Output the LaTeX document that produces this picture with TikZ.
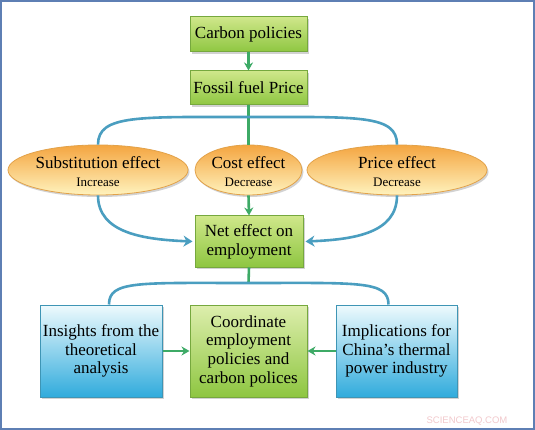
\documentclass[tikz,border=0pt]{standalone}
\usepackage{fontspec}
\setmainfont{Liberation Serif}
\newfontfamily\wmfont{Liberation Sans}
\usetikzlibrary{shapes.geometric,shadows,arrows.meta,calc}
\definecolor{gbord}{HTML}{76A83E}
\definecolor{gtop}{HTML}{CFE78A}
\definecolor{gbot}{HTML}{8EC641}
\definecolor{otop}{HTML}{F4A540}
\definecolor{omid}{HTML}{FCE3A0}
\definecolor{obot}{HTML}{FFF3BE}
\definecolor{obord}{HTML}{E2A24A}
\definecolor{btop}{HTML}{EEFAFD}
\definecolor{bbot}{HTML}{30ABDC}
\definecolor{bbord}{HTML}{3E95B5}
\definecolor{garrow}{HTML}{3DAA66}
\definecolor{barc}{HTML}{4A9EC0}
\definecolor{frame}{HTML}{5E7FB4}
\definecolor{wm}{HTML}{F2C9CC}
\tikzset{
  base/.style={inner sep=0pt, align=center, font=\fontsize{17}{19}\selectfont,
    drop shadow={shadow xshift=1.5pt, shadow yshift=-2pt, opacity=0.35, fill=gray}},
  greenbox/.style={base, rectangle, draw=gbord, line width=1pt, shading=axis,
    top color=gtop, bottom color=gbot},
  orangeell/.style={base, ellipse, draw=obord, line width=0.8pt, shading=axis,
    top color=otop, middle color=omid, bottom color=obot},
  bluebox/.style={base, rectangle, draw=bbord, line width=1pt, shading=axis,
    top color=btop, bottom color=bbot},
  garr/.style={draw=garrow, line width=2.6pt, -{Stealth[length=8pt,width=9pt]}},
  gline/.style={draw=garrow, line width=2.6pt},
  barcline/.style={draw=barc, line width=2.6pt},
  barr/.style={draw=barc, line width=2.6pt, -{Stealth[length=9pt,width=11pt]}},
  small/.style={font=\fontsize{13}{14}\selectfont}
}
\begin{document}
\begin{tikzpicture}[x=1pt,y=-1pt]
\useasboundingbox (0,0) rectangle (535,430);
\fill[white] (0,0) rectangle (535,430);
\draw[frame, line width=2pt] (1,1) rectangle (534,429);

\node[greenbox, minimum width=117pt, minimum height=35pt] (cp) at (248.5,34.5) {Carbon policies};
\node[greenbox, minimum width=117pt, minimum height=34pt] (ffp) at (248.5,88) {Fossil fuel Price};

\coordinate (arctop) at (248.5,117);
\coordinate (arcbot) at (248.5,283);

\node[orangeell, minimum width=180pt, minimum height=50pt] (sub) at (98,170) {};
\node[orangeell, minimum width=107pt, minimum height=50pt] (cost) at (248.5,170) {};
\node[orangeell, minimum width=180pt, minimum height=50pt] (price) at (397,170) {};

\node[greenbox, minimum width=108pt, minimum height=51pt] (net) at (249,241.5) {};

\node[bluebox, minimum width=122pt, minimum height=92pt] (ins) at (101,351) {};
\node[greenbox, minimum width=117pt, minimum height=92pt, top color=gtop!70!white] (coord) at (248.5,351) {};
\node[bluebox, minimum width=121pt, minimum height=92pt] (impl) at (396.5,351) {};

% connectors behind texts
\draw[garr] (cp.south) -- (ffp.north);
\draw[gline] (ffp.south) -- (cost.north);
\draw[barcline] (sub.north) .. controls ($(sub.north)+(0,-30)$) and ($(arctop)+(-110,0)$) .. (arctop)
   .. controls ($(arctop)+(110,0)$) and ($(price.north)+(0,-30)$) .. (price.north);
\draw[barr] (sub.south) .. controls ($(sub.south)+(0,38)$) and ($(net.west)+(-50,-2)$) .. ($(net.west)+(-2,0)$);
\draw[barr] (price.south) .. controls ($(price.south)+(0,38)$) and ($(net.east)+(50,-2)$) .. ($(net.east)+(2,0)$);
\draw[garr] (cost.south) -- (net.north);
\draw[gline] (net.south) -- (arcbot);
\draw[barcline] ($(ins.north)+(8,0)$) .. controls ($(ins.north)+(8,-24)$) and ($(arcbot)+(-110,0)$) .. (arcbot)
   .. controls ($(arcbot)+(110,0)$) and ($(impl.north)+(-8,-24)$) .. ($(impl.north)+(-8,0)$);
\draw[garr] (ins.east) -- (coord.west);
\draw[garr] (impl.west) -- (coord.east);

% texts
\node[font=\fontsize{17}{19}\selectfont] (subt) at (98,163) {Substitution effect};
\node[small] (subs) at (98,182) {Increase};
\node[font=\fontsize{17}{19}\selectfont] (costt) at (248.5,163) {Cost effect};
\node[small] (costs) at (248.5,182) {Decrease};
\node[font=\fontsize{17}{19}\selectfont] (pricet) at (397,163) {Price effect};
\node[small] (prices) at (397,182) {Decrease};
\node[align=center, font=\fontsize{17}{19}\selectfont] (nett) at (249,241.5) {Net effect on\\employment};
\node[align=center, font=\fontsize{17}{18.7}\selectfont] (inst) at (101,351) {Insights from the\\theoretical\\analysis};
\node[align=center, font=\fontsize{17}{18.7}\selectfont] (coordt) at (248.5,351) {Coordinate\\employment\\policies and\\carbon polices};
\node[align=center, font=\fontsize{17}{18.7}\selectfont] (implt) at (396.5,351) {Implications for\\China{\char"27}s thermal\\power industry};

\node[text=wm, font=\wmfont\fontsize{9.5}{10}\selectfont] (wmark) at (467,421) {SCIENCEAQ.COM};
\end{tikzpicture}
\end{document}
